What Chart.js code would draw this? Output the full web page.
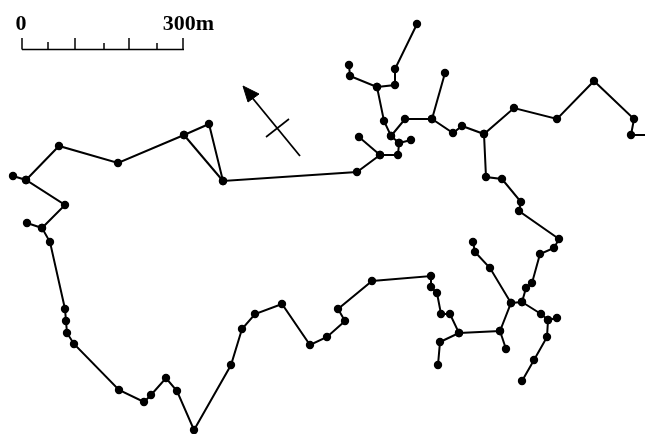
<!DOCTYPE html>
<html>
<head>
<meta charset="utf-8">
<style>html,body{margin:0;padding:0;background:#fff}canvas{display:block}</style>
<script src="https://cdn.jsdelivr.net/npm/chart.js@4"></script>
</head>
<body>
<canvas id="c" width="645" height="434"></canvas>
<script>
// Network branches, in map units
const westLoop = [[13,176],[26,180],[65,205],[42,228],[50,242],[65,309],[66,321],[67,333],[74,344],[119,390],[144,402],[151,395],[166,378],[177,391],[194,430],[231,365],[242,329],[255,314],[282,304],[310,345],[327,337],[345,321],[338,309],[372,281],[431,276],[431,287],[437,293],[441,314],[450,314],[459,333],[440,342],[438,365]];
const westStub = [[27,223],[42,228]];
const northWest = [[26,180],[59,146],[118,163],[184,135],[209,124],[223,181],[357,172],[380,155],[398,155],[399,143],[411,140]];
const triangleSide = [[184,135],[223,181]];
const stubA = [[380,155],[359,137]];
const spineN = [[399,143],[391,136],[384,121],[377,87],[350,76],[349,65]];
const spineNE = [[377,87],[395,85],[395,69],[417,24]];
const eastRun = [[391,136],[405,119],[432,119],[453,133],[462,126],[484,134],[514,108],[557,119],[594,81],[634,119],[631,135],[645,135]];
const stubB = [[432,119],[445,73]];
const southEast = [[484,134],[486,177],[502,179],[521,202],[519,211],[559,239],[554,248],[540,254],[532,283],[526,288],[522,302],[511,303],[500,331],[459,333]];
const stubC = [[500,331],[506,349]];
const stubD = [[511,303],[490,268],[475,252],[473,242]];
const stubE = [[522,302],[541,314],[548,320],[557,318]];
const stubF = [[548,320],[547,337],[534,360],[522,381]];
const branches = [westLoop, westStub, northWest, triangleSide, stubA, spineN, spineNE, eastRun, stubB, southEast, stubC, stubD, stubE, stubF];

// Scale bar and north arrow
const scaleBase = [[22,49.5],[184,49.5]];
const scaleTicks = [[[22,38],[22,49.5]],[[48,42],[48,49.5]],[[75,38],[75,49.5]],[[104,43],[104,49.5]],[[129,38],[129,49.5]],[[157,43],[157,49.5]],[[183,38],[183,49.5]]];
const arrowShaft = [[300,156],[250,95]];
const arrowCross = [[266,137],[289,119]];
const arrowHead = [[243,86],[259,94],[248,102],[243,86]];
const scaleLabels = [{text:"0",x:21,y:24},{text:"300m",x:188.5,y:24}];

const toPts = a => a.map(p => ({x:p[0], y:p[1]}));
const datasets = [];
branches.forEach(b => datasets.push({
  data: toPts(b), showLine:true, borderColor:'#000', borderWidth:2,
  backgroundColor:'#000', pointRadius:4.2, pointBorderWidth:0, pointHoverRadius:4.2, clip:false
}));
// final open end of the east run carries no dot
datasets[branches.indexOf(eastRun)].pointRadius = ctx => ctx.dataIndex === eastRun.length-1 ? 0 : 4.2;
const plain = (a,w) => ({data:toPts(a), showLine:true, borderColor:'#000', borderWidth:w, pointRadius:0, clip:false});
datasets.push(plain(scaleBase,1.7));
scaleTicks.forEach(t => datasets.push(plain(t,1.5)));
datasets.push(plain(arrowShaft,1.8));
datasets.push(plain(arrowCross,1.6));
datasets.push(Object.assign(plain(arrowHead,1),{fill:'shape',backgroundColor:'#000'}));

const labelPlugin = {
  id:'scaleLabels',
  afterDatasetsDraw(chart){
    const {ctx, scales:{x,y}} = chart;
    ctx.save();
    ctx.fillStyle='#000';
    ctx.font='bold 22px "Liberation Serif"';
    ctx.textAlign='center';
    ctx.textBaseline='middle';
    scaleLabels.forEach(l => ctx.fillText(l.text, x.getPixelForValue(l.x), y.getPixelForValue(l.y)));
    ctx.restore();
  }
};

new Chart(document.getElementById('c'), {
  type:'scatter',
  data:{datasets},
  options:{
    responsive:false, animation:false, events:[],
    layout:{padding:0, autoPadding:false},
    plugins:{legend:{display:false}, tooltip:{enabled:false}, title:{display:false}},
    scales:{
      x:{type:'linear', min:0, max:645, display:false},
      y:{type:'linear', min:0, max:434, reverse:true, display:false}
    }
  },
  plugins:[labelPlugin]
});
</script>
</body>
</html>
